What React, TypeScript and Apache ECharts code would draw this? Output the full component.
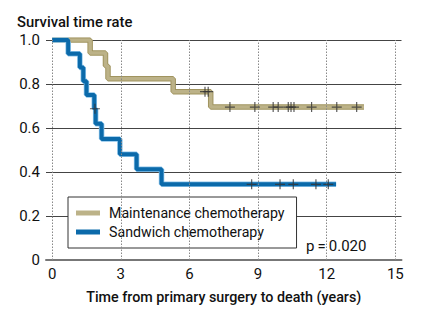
import React, { useEffect, useRef } from "react";
import * as echarts from "echarts";

// Maintenance chemotherapy: event times (years) and survival after each event
const maintTimes = [0, 1.66, 2.33, 2.44, 5.29, 6.93, 13.63];
const maintSurv = [1.0, 0.941, 0.882, 0.824, 0.765, 0.695, 0.695];
const maintCensor = [6.68, 6.82, 7.77, 8.86, 9.66, 9.88, 10.32, 10.44, 10.57, 11.34, 12.44, 13.31];

// Sandwich chemotherapy
const sandTimes = [0, 0.7, 1.21, 1.36, 1.5, 1.84, 1.9, 2.16, 2.96, 3.69, 4.78, 12.41];
const sandSurv = [1.0, 0.9375, 0.875, 0.8125, 0.75, 0.6875, 0.619, 0.55, 0.481, 0.4125, 0.344, 0.344];
const sandCensor = [1.87, 8.72, 9.96, 10.54, 11.53, 12.07];

const xTicks = [0, 3, 6, 9, 12, 15];
const seriesNames = ["Maintenance chemotherapy", "Sandwich chemotherapy"];

const FONT = "Roboto, 'Liberation Sans', Arial, sans-serif";
const CROSS = "path://M-0.12,-1 L0.12,-1 L0.12,-0.12 L1,-0.12 L1,0.12 L0.12,0.12 L0.12,1 L-0.12,1 L-0.12,0.12 L-1,0.12 L-1,-0.12 L-0.12,-0.12 Z";

function stepAt(times: number[], surv: number[], t: number): number {
  let v = surv[0];
  for (let i = 0; i < times.length; i++) if (times[i] <= t) v = surv[i];
  return v;
}

export default function App() {
  const ref = useRef<HTMLDivElement>(null);
  useEffect(() => {
    if (!ref.current) return;
    const chart = echarts.init(ref.current, undefined, { renderer: "svg" });
    const maintData = maintTimes.map((t, i) => [t, maintSurv[i]]);
    const sandData = sandTimes.map((t, i) => [t, sandSurv[i]]);
    const maintC = maintCensor.map((t) => [t, stepAt(maintTimes, maintSurv, t)]);
    const sandC = sandCensor.map((t) => {
      if (t > 1.84 && t < 1.9) return [t, 0.6875];
      return [t, stepAt(sandTimes, sandSurv, t)];
    });
    const tan = "#bcb288";
    const tanEdge = "#a0945f";
    const blue = "#0b6aaa";
    const blueEdge = "#8cc4ea";
    chart.setOption({
      animation: false,
      textStyle: { fontFamily: FONT },
      grid: { left: 46, right: 21.5, top: 40, bottom: 53, containLabel: false },
      title: {
        text: "Survival time rate",
        left: 12,
        top: 9,
        textStyle: { fontFamily: FONT, fontSize: 14.8, fontWeight: 500, color: "#111" },
      },
      legend: {
        data: seriesNames.map((n, i) => ({
          name: n,
          icon: "rect",
          itemStyle: { color: i === 0 ? tan : blue },
        })),
        orient: "vertical",
        left: 68,
        top: 197,
        itemWidth: 24,
        itemHeight: 5,
        itemGap: 5,
        padding: [9, 12, 9, 8],
        borderColor: "#333",
        borderWidth: 1,
        backgroundColor: "#fff",
        textStyle: { fontFamily: FONT, fontSize: 14.2, color: "#111", padding: [0, 0, 0, 4] },
      },
      xAxis: {
        type: "value",
        min: -0.27,
        max: 15.27,
        name: "Time from primary surgery to death (years)",
        nameLocation: "middle",
        nameGap: 30,
        nameTextStyle: { fontFamily: FONT, fontSize: 14.3, fontWeight: 500, color: "#111" },
        axisLine: { show: true, lineStyle: { color: "#777", width: 2 } },
        axisTick: { show: false },
        splitLine: { show: false },
        axisLabel: {
          customValues: xTicks,
          fontFamily: FONT,
          fontSize: 15,
          color: "#111",
          margin: 6,
        },
      },
      yAxis: {
        type: "value",
        min: 0,
        max: 1,
        interval: 0.2,
        axisLine: { show: false },
        axisTick: { show: false },
        splitLine: { show: true, lineStyle: { color: "#444", width: 1 } },
        axisLabel: {
          fontFamily: FONT,
          fontSize: 15,
          color: "#111",
          margin: 6,
          formatter: (v: number) => (v === 0 ? "0" : v.toFixed(1)),
        },
      },
      graphic: [
        {
          type: "text",
          left: 306,
          top: 238,
          z: 100,
          style: { text: "p\u2009=\u20090.020", font: `15px ${FONT}`, fill: "#111" },
        },
      ],
      series: [
        {
          type: "line",
          name: "grid-v",
          data: [],
          markLine: {
            silent: true,
            symbol: "none",
            label: { show: false },
            lineStyle: { color: "#888", type: [1.5, 1.5], width: 1 },
            data: xTicks.map((x) => ({ xAxis: x })),
          },
        },
        {
          type: "line",
          name: "maint-edge",
          data: maintData,
          step: "end",
          symbol: "none",
          lineStyle: { color: tanEdge, width: 5.5 },
          z: 3,
        },
        {
          type: "line",
          name: seriesNames[0],
          data: maintData,
          step: "end",
          symbol: "none",
          lineStyle: { color: tan, width: 3.5 },
          itemStyle: { color: tan },
          z: 4,
        },
        {
          type: "line",
          name: "sand-edge",
          data: sandData,
          step: "end",
          symbol: "none",
          lineStyle: { color: blueEdge, width: 5.5 },
          z: 3,
        },
        {
          type: "line",
          name: seriesNames[1],
          data: sandData,
          step: "end",
          symbol: "none",
          lineStyle: { color: blue, width: 4 },
          itemStyle: { color: blue },
          z: 4,
        },
        {
          type: "scatter",
          name: "maint-censor",
          data: maintC,
          symbol: CROSS,
          symbolSize: 10,
          itemStyle: { color: "#333" },
          z: 5,
        },
        {
          type: "scatter",
          name: "sand-censor",
          data: sandC,
          symbol: CROSS,
          symbolSize: 10,
          itemStyle: { color: "#333" },
          z: 5,
        },
      ],
    });
    return () => chart.dispose();
  }, []);
  return <div ref={ref} style={{ width: 423, height: 313, margin: -8 }} />;
}
